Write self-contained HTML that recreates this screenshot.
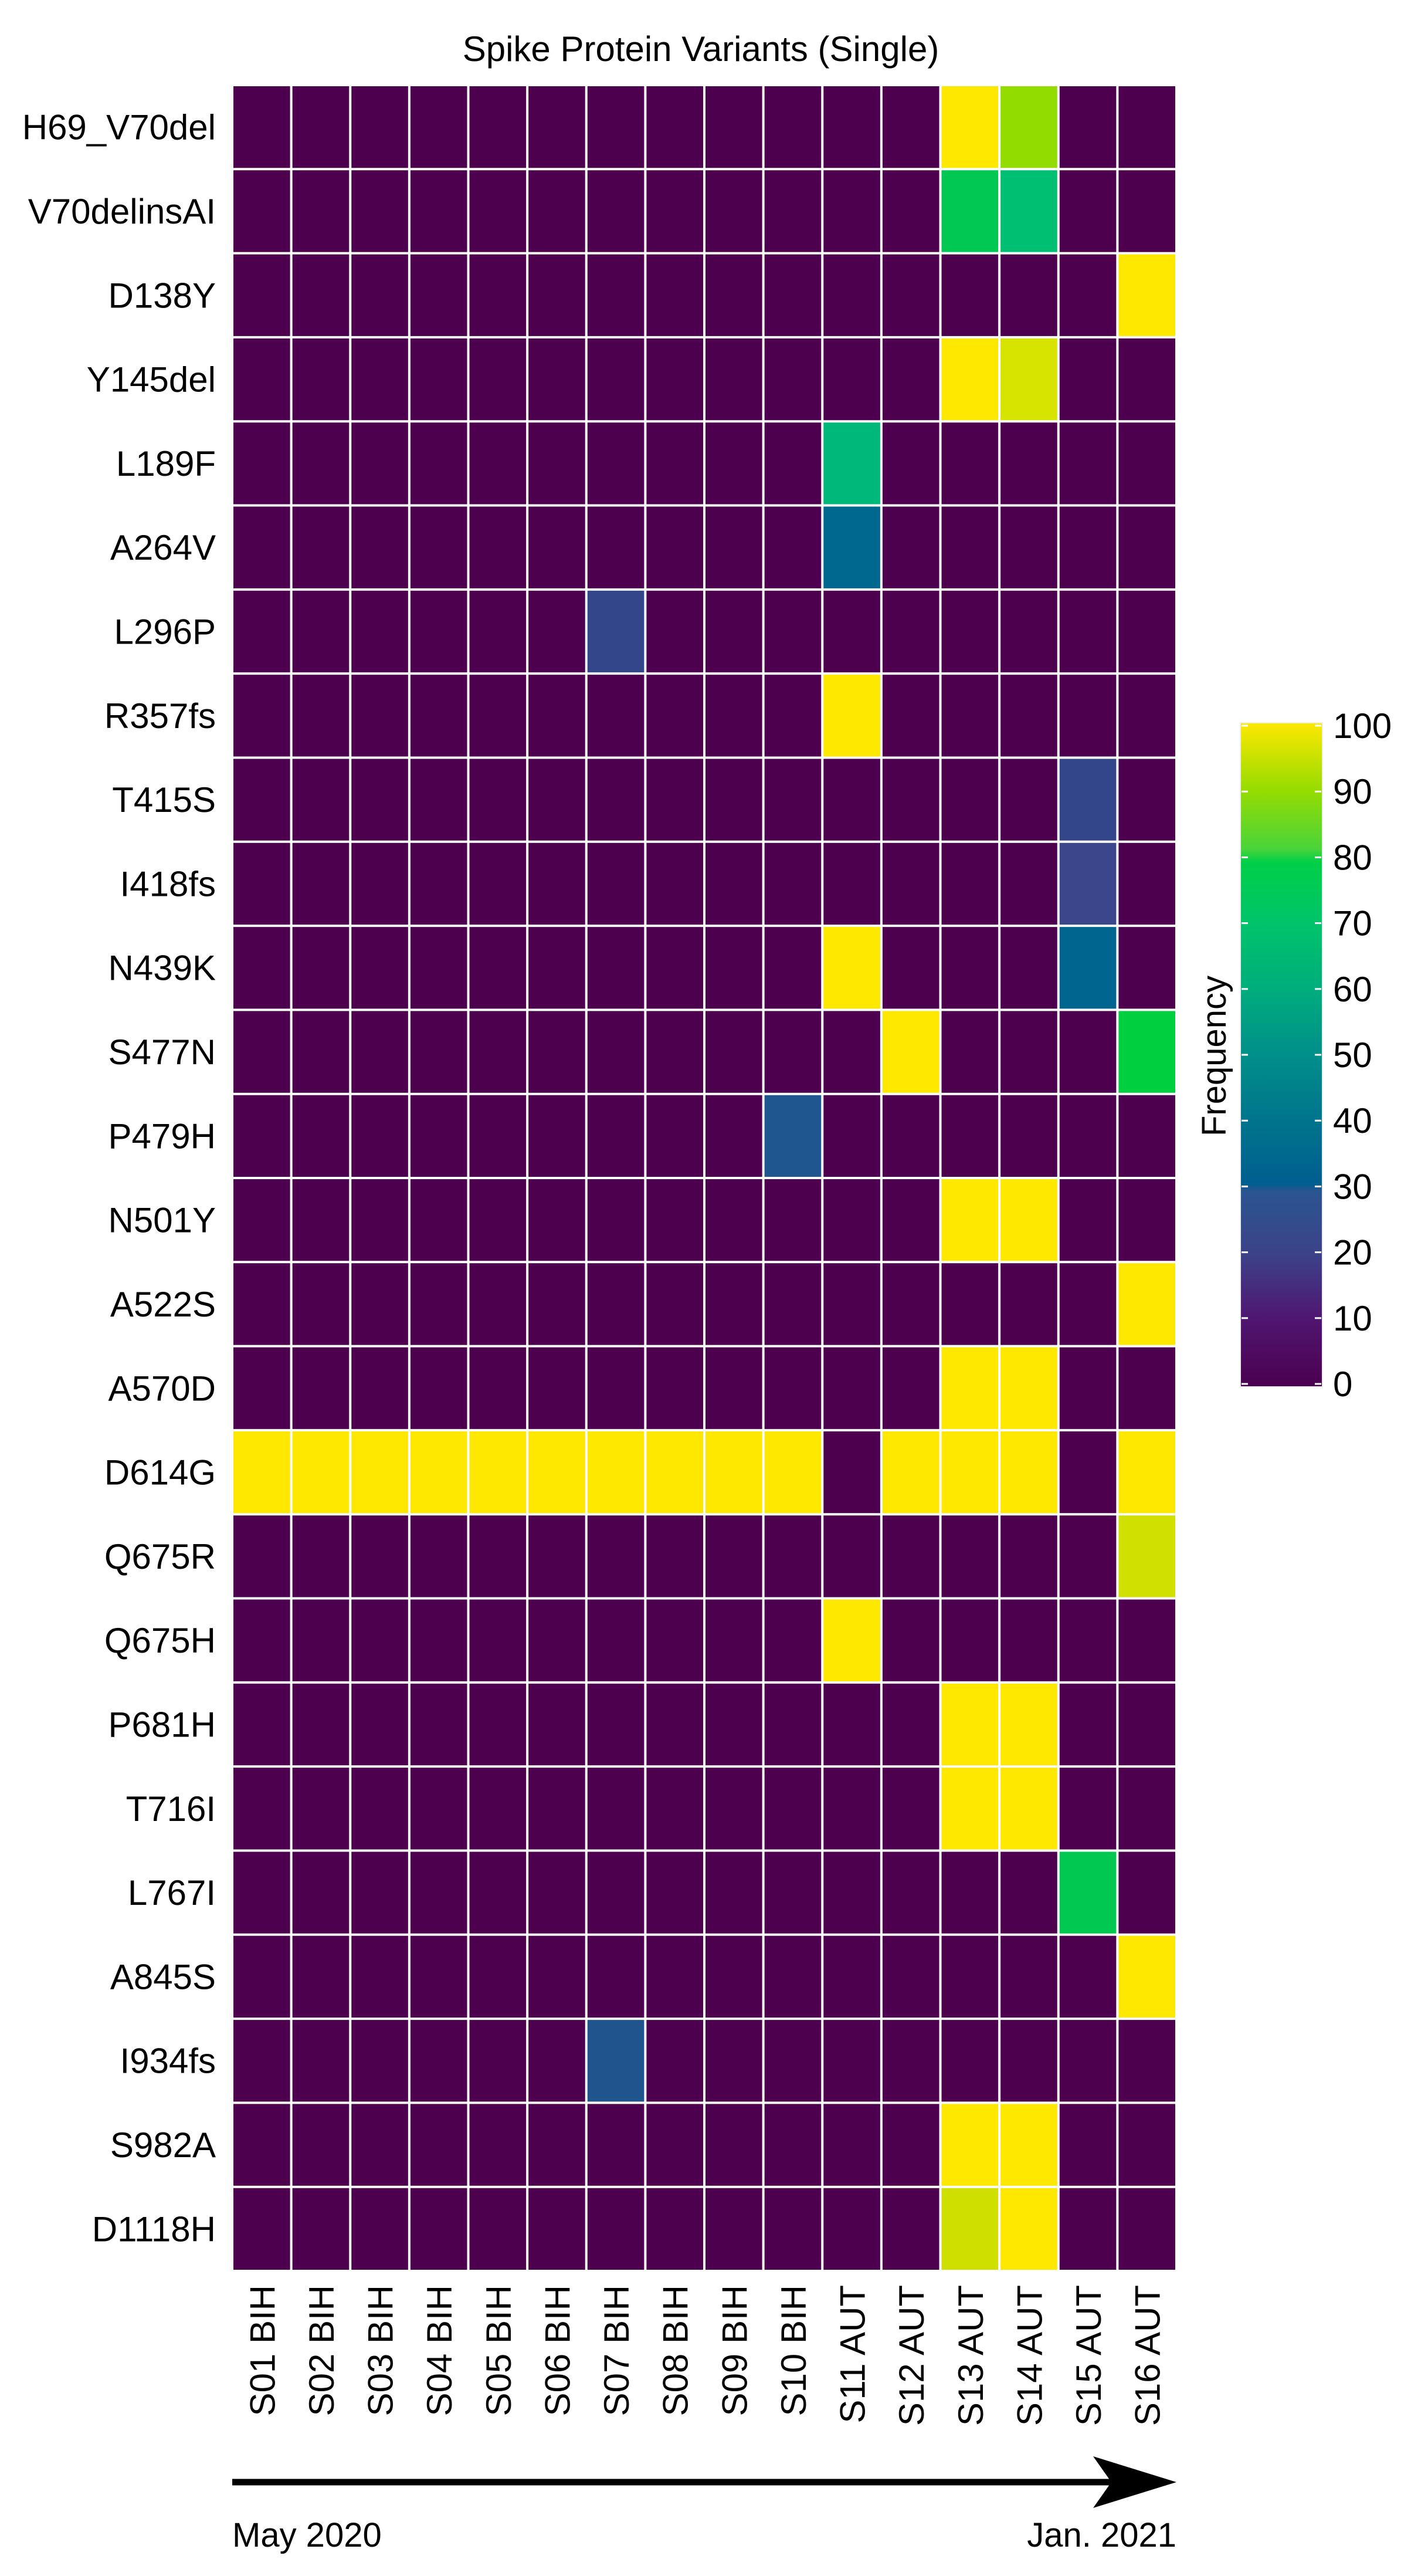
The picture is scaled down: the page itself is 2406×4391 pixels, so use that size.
<!DOCTYPE html>
<html><head><meta charset="utf-8"><style>html,body{margin:0;padding:0;background:#fff}svg{display:block}</style></head>
<body>
<svg width="2406" height="4391" viewBox="0 0 2406 4391" xmlns="http://www.w3.org/2000/svg" font-family="Liberation Sans, Arial, sans-serif">
<defs>
<linearGradient id="cb" x1="0" y1="1" x2="0" y2="0">
<stop offset="0" stop-color="#4b0050"/>
<stop offset="0.1" stop-color="#501570"/>
<stop offset="0.2" stop-color="#3c4288"/>
<stop offset="0.295" stop-color="#2a5590"/>
<stop offset="0.305" stop-color="#005e90"/>
<stop offset="0.4" stop-color="#00748c"/>
<stop offset="0.5" stop-color="#008f8a"/>
<stop offset="0.6" stop-color="#00ad7c"/>
<stop offset="0.7" stop-color="#00c46a"/>
<stop offset="0.79" stop-color="#00cf48"/>
<stop offset="0.81" stop-color="#4ad43a"/>
<stop offset="0.9" stop-color="#98dc00"/>
<stop offset="1" stop-color="#fee800"/>
</linearGradient>
</defs>
<text x="1195" y="104" font-size="60" text-anchor="middle">Spike Protein Variants (Single)</text>
<rect x="396" y="145" width="1610" height="3726" fill="#4d004e"/>
<g id="cells"></g>
<g id="grid" stroke="#fff" stroke-width="4"></g>
<g id="rl" font-size="60" text-anchor="end"></g>
<g id="cl" font-size="60" text-anchor="end"></g>
<rect x="2115" y="1232" width="140" height="1132" fill="url(#cb)" stroke="#eee" stroke-width="2"/>
<g id="cbt" font-size="60"></g>
<text transform="translate(2090,1800) rotate(-90)" font-size="58" text-anchor="middle">Frequency</text>
<line x1="396" y1="4231" x2="1900" y2="4231" stroke="#000" stroke-width="11"/>
<path d="M1864,4187 L2006,4231 L1864,4275 L1895,4231 Z" fill="#000"/>
<text x="396" y="4341" font-size="58">May 2020</text>
<text x="2006" y="4341" font-size="58" text-anchor="end">Jan. 2021</text>
</svg>
<script>
const NS="http://www.w3.org/2000/svg";
const rows=["H69_V70del","V70delinsAI","D138Y","Y145del","L189F","A264V","L296P","R357fs","T415S","I418fs","N439K","S477N","P479H","N501Y","A522S","A570D","D614G","Q675R","Q675H","P681H","T716I","L767I","A845S","I934fs","S982A","D1118H"];
const Y="#fee800";
const d={0:{13:Y,14:"#92dc00"},1:{13:"#00c853",14:"#00bf72"},2:{16:Y},3:{13:Y,14:"#d6e400"},4:{11:"#00b87a"},5:{11:"#00688f"},6:{7:"#34468a"},7:{11:Y},8:{15:"#33468a"},9:{15:"#3b468b"},10:{11:Y,15:"#00658f"},11:{12:Y,16:"#00d040"},12:{10:"#1f5690"},13:{13:Y,14:Y},14:{16:Y},15:{13:Y,14:Y},16:{1:Y,2:Y,3:Y,4:Y,5:Y,6:Y,7:Y,8:Y,9:Y,10:Y,12:Y,13:Y,14:Y,16:Y},17:{16:"#d0e000"},18:{11:Y},19:{13:Y,14:Y},20:{13:Y,14:Y},21:{15:"#00c850"},22:{16:Y},23:{7:"#20548c"},24:{13:Y,14:Y},25:{13:"#cfe000",14:Y}};
const X0=396,Y0=145,CW=1610/16,RH=3726/26;
function el(t,a,p,txt){const e=document.createElementNS(NS,t);for(const k in a)e.setAttribute(k,a[k]);if(txt)e.textContent=txt;document.getElementById(p).appendChild(e);}
for(const r in d)for(const c in d[r])el("rect",{x:X0+(c-1)*CW,y:Y0+r*RH,width:CW,height:RH,fill:d[r][c]},"cells");
for(let i=0;i<=16;i++)el("line",{x1:X0+i*CW,y1:Y0,x2:X0+i*CW,y2:Y0+3726},"grid");
for(let j=0;j<=26;j++)el("line",{x1:X0,y1:Y0+j*RH,x2:X0+1610,y2:Y0+j*RH},"grid");
rows.forEach((n,j)=>el("text",{x:368,y:Y0+j*RH+RH/2+21},"rl",n));
for(let i=0;i<16;i++){const lab="S"+String(i+1).padStart(2,"0")+" "+(i<10?"BIH":"AUT");const cx=X0+i*CW+CW/2+22;el("text",{transform:`translate(${cx},3895) rotate(-90)`},"cl",lab);}
for(let v=0;v<=100;v+=10){const y=2359-v*11.22;el("text",{x:2273,y:y+21},"cbt",String(v));el("line",{x1:2117,y1:y,x2:2128,y2:y,stroke:"#fff","stroke-width":3},"cbt");el("line",{x1:2242,y1:y,x2:2253,y2:y,stroke:"#fff","stroke-width":3},"cbt");}
</script>
</body></html>
